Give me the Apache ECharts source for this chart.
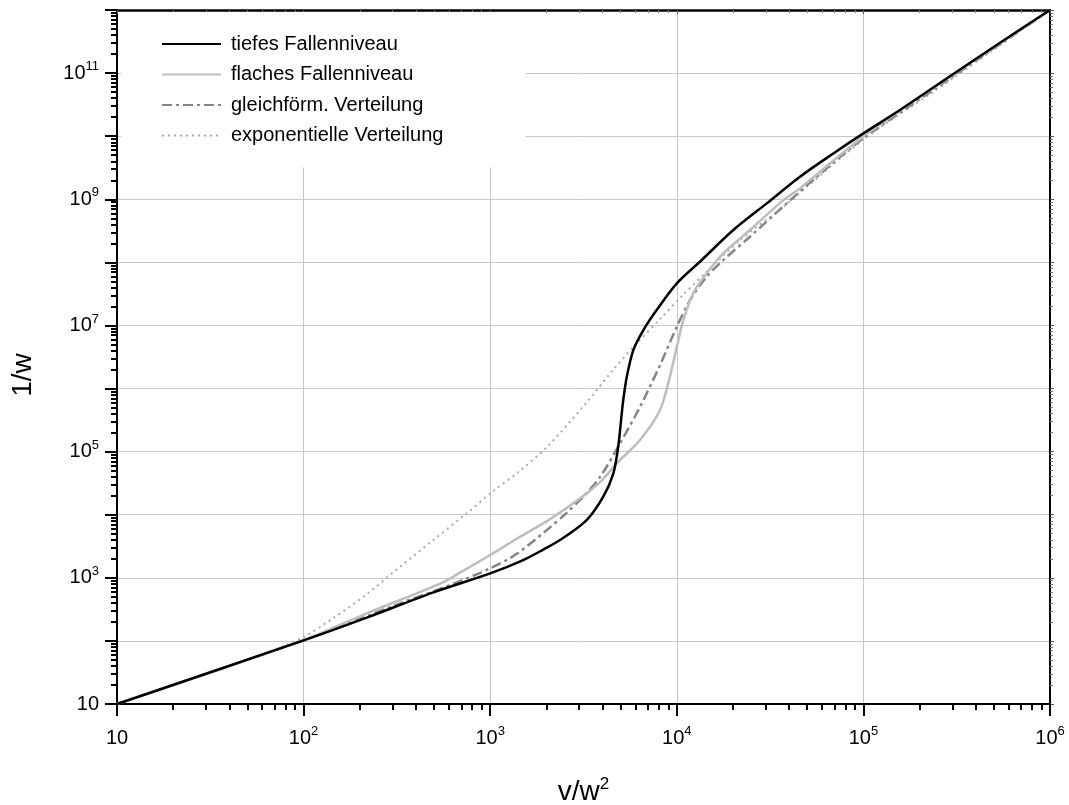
<!DOCTYPE html>
<html>
<head>
<meta charset="utf-8">
<script src="https://cdn.jsdelivr.net/npm/echarts@6/dist/echarts.min.js"></script>
<style>
html,body{margin:0;padding:0;background:#fff;}
#chart{width:1069px;height:805px;}
</style>
</head>
<body>
<div id="chart"></div>
<script>
// ---- data (x = v/w^2, y = 1/w) ----
const seriesNames = ['tiefes Fallenniveau', 'flaches Fallenniveau', 'gleichförm. Verteilung', 'exponentielle Verteilung'];

const tiefesX = [10, 100, 218, 496, 1000, 1503, 1905, 2366, 3289, 4036, 4571, 4853, 5070, 5164, 5395, 5848, 6622, 7798, 10000, 13300, 20090, 30340, 45710, 69020, 100000, 157000, 291000, 540000, 1000000];
const tiefesY = [10, 102, 234, 589, 1175, 1914, 2754, 3972, 8241, 19280, 45290, 1.197e5, 4.046e5, 6.577e5, 1.538e6, 4.074e6, 8.453e6, 1.754e7, 4.645e7, 1.023e8, 3.251e8, 8.61e8, 2.275e9, 5.33e9, 1.107e10, 2.594e10, 8.91e10, 3.02e11, 1e12];

const flachesX = [10, 100, 218, 404, 561, 661, 1000, 1387, 2094, 3034, 3981, 4764, 6353, 8128, 9183, 10000, 10840, 12250, 14450, 17740, 24660, 37240, 45710, 99500, 236000, 1000000];
const flachesY = [10, 103, 274, 568, 851, 1122, 2296, 4169, 8511, 18200, 35480, 65310, 1.528e5, 4.56e5, 1.55e6, 4.571e6, 1.216e7, 3.228e7, 6.699e7, 1.39e8, 3.251e8, 9.7e8, 1.489e9, 9.77e9, 5.754e10, 1e12];

const gleichX = [10, 100, 329, 610, 1000, 1387, 2094, 2570, 3162, 3882, 4966, 6353, 8128, 10000, 11780, 14450, 17740, 24660, 38820, 56230, 100000, 236000, 1000000];
const gleichY = [10, 102, 394, 769, 1413, 2399, 6310, 10720, 19500, 39810, 1.352e5, 5.152e5, 2.344e6, 9.55e6, 2.523e7, 5.916e7, 1.086e8, 2.547e8, 8.61e8, 2.275e9, 9.23e9, 5.37e10, 1e12];

const expoX = [10, 50.1, 79.4, 100, 144, 218, 329, 496, 748, 1000, 1387, 2009, 3289, 4571, 6095, 8128, 10840, 14450, 21830, 37240, 100000, 236000, 1000000];
const expoY = [10, 50.1, 85.1, 115, 229, 550, 1500, 3972, 10520, 21830, 45290, 1.175e5, 6.026e5, 2.0e6, 5.2e6, 1.259e7, 3.09e7, 7.096e7, 2.254e8, 7.6e8, 8.9e9, 5.01e10, 1e12];

// axis ticks / labels
const xMajorTicks = [10, 100, 1000, 1e4, 1e5, 1e6];
const yMajorTicks = [10, 1e2, 1e3, 1e4, 1e5, 1e6, 1e7, 1e8, 1e9, 1e10, 1e11, 1e12];
const yLabelledExponents = [1, 3, 5, 7, 9, 11];
const xLabelledExponents = [1, 2, 3, 4, 5, 6];

function minorTicks(majors) {
  const out = [];
  for (let i = 0; i < majors.length - 1; i++) {
    for (let k = 2; k <= 9; k++) out.push(majors[i] * k);
  }
  return out;
}
const xMinorTicks = minorTicks(xMajorTicks);
const yMinorTicks = minorTicks(yMajorTicks);

function pairs(xs, ys) { return xs.map((x, i) => [x, ys[i]]); }

const FONT = "'Liberation Sans', Arial, sans-serif";
const rich = {
  b: { fontSize: 20, fontFamily: FONT, color: '#000', lineHeight: 26 },
  s: { fontSize: 13, fontFamily: FONT, color: '#000', lineHeight: 14, verticalAlign: 'top' }
};
function expLabel(v, allowed) {
  const e = Math.round(Math.log10(v));
  if (allowed.indexOf(e) < 0) return '';
  if (e === 1) return '{b|10}';
  return '{b|10}{s|' + e + '}';
}

const chart = echarts.init(document.getElementById('chart'), null, { renderer: 'canvas' });

const gridBox = { left: 117, right: 19, top: 10, bottom: 101, containLabel: false, outerBoundsMode: 'none' };

const option = {
  animation: false,
  backgroundColor: '#fff',
  grid: [
    Object.assign({}, gridBox),
    Object.assign({}, gridBox)
  ],
  legend: {
    orient: 'vertical',
    left: 121, top: 12,
    padding: [22, 82, 22, 40],
    backgroundColor: '#fff',
    itemWidth: 59, itemHeight: 20, itemGap: 10.5,
    itemStyle: { color: 'rgba(0,0,0,0)', borderColor: 'rgba(0,0,0,0)', borderWidth: 0 },
    textStyle: { fontSize: 20, fontFamily: FONT, color: '#000', lineHeight: 20, padding: [0, 0, 0, 5] },
    data: seriesNames
  },
  xAxis: [
    { // main bottom axis
      type: 'log', logBase: 10, min: 10, max: 1e6, interval: 1, gridIndex: 0, position: 'bottom',
      name: '{b|v/w}{s|2}', nameLocation: 'middle', nameGap: 72,
      nameTextStyle: { rich: {
        b: { fontSize: 28, fontFamily: FONT, color: '#000', lineHeight: 32 },
        s: { fontSize: 17, fontFamily: FONT, color: '#000', lineHeight: 17, verticalAlign: 'top' } } },
      axisLine: { show: true, lineStyle: { color: '#000', width: 2 } },
      axisTick: { show: true, inside: false, length: 12, lineStyle: { color: '#000', width: 2 }, customValues: xMajorTicks },
      axisLabel: { show: true, margin: 21, rich: rich, customValues: xMajorTicks,
        formatter: v => expLabel(v, xLabelledExponents) },
      splitLine: { show: true, lineStyle: { color: '#c8c8c8', width: 1 } },
      minorTick: { show: false }
    },
    { // top frame
      type: 'log', logBase: 10, min: 10, max: 1e6, interval: 1, gridIndex: 0, position: 'top',
      axisLine: { show: true, lineStyle: { color: '#000', width: 2.5 } },
      axisTick: { show: true, inside: true, length: 4, lineStyle: { color: '#555', width: 1 }, customValues: xMajorTicks },
      axisLabel: { show: false }, splitLine: { show: false }
    },
    { // minor ticks bottom
      type: 'log', logBase: 10, min: 10, max: 1e6, gridIndex: 1, position: 'bottom',
      axisLine: { show: false },
      axisTick: { show: true, inside: false, length: 6, lineStyle: { color: '#000', width: 2 }, customValues: xMinorTicks },
      axisLabel: { show: false }, splitLine: { show: false }
    },
    { // minor ticks top
      type: 'log', logBase: 10, min: 10, max: 1e6, gridIndex: 1, position: 'top',
      axisLine: { show: false },
      axisTick: { show: true, inside: true, length: 3, lineStyle: { color: '#777', width: 1 }, customValues: xMinorTicks },
      axisLabel: { show: false }, splitLine: { show: false }
    }
  ],
  yAxis: [
    { // main left
      type: 'log', logBase: 10, min: 10, max: 1e12, interval: 1, gridIndex: 0, position: 'left',
      name: '1/w', nameLocation: 'middle', nameGap: 80, nameRotate: 90,
      nameTextStyle: { fontSize: 28, fontFamily: FONT, color: '#000', padding: [0, 36, 0, 0] },
      axisLine: { show: true, lineStyle: { color: '#000', width: 2 } },
      axisTick: { show: true, inside: false, length: 12, lineStyle: { color: '#000', width: 2 }, customValues: yMajorTicks },
      axisLabel: { show: true, margin: 18, rich: rich, customValues: yMajorTicks,
        formatter: v => expLabel(v, yLabelledExponents) },
      splitLine: { show: true, lineStyle: { color: '#c8c8c8', width: 1 } },
      minorTick: { show: false }
    },
    { // right frame
      type: 'log', logBase: 10, min: 10, max: 1e12, interval: 1, gridIndex: 0, position: 'right',
      axisLine: { show: true, lineStyle: { color: '#000', width: 2 } },
      axisTick: { show: true, inside: false, length: 4, lineStyle: { color: '#555', width: 1 }, customValues: yMajorTicks },
      axisLabel: { show: false }, splitLine: { show: false }
    },
    { // minor left
      type: 'log', logBase: 10, min: 10, max: 1e12, gridIndex: 1, position: 'left',
      axisLine: { show: false },
      axisTick: { show: true, inside: false, length: 6, lineStyle: { color: '#000', width: 2 }, customValues: yMinorTicks },
      axisLabel: { show: false }, splitLine: { show: false }
    },
    { // minor right
      type: 'log', logBase: 10, min: 10, max: 1e12, gridIndex: 1, position: 'right',
      axisLine: { show: false },
      axisTick: { show: true, inside: false, length: 3, lineStyle: { color: '#777', width: 1 }, customValues: yMinorTicks },
      axisLabel: { show: false }, splitLine: { show: false }
    }
  ],
  series: [
    {
      name: seriesNames[3], type: 'line', xAxisIndex: 0, yAxisIndex: 0,
      data: pairs(expoX, expoY), symbol: 'none', smooth: 0.3,
      lineStyle: { color: '#aaaaaa', width: 2, type: [2, 4] }, itemStyle: { color: '#aaaaaa' }, z: 2
    },
    {
      name: seriesNames[2], type: 'line', xAxisIndex: 0, yAxisIndex: 0,
      data: pairs(gleichX, gleichY), symbol: 'none', smooth: 0.3,
      lineStyle: { color: '#858585', width: 2.5, type: [10, 4, 3, 4] }, itemStyle: { color: '#858585' }, z: 3
    },
    {
      name: seriesNames[1], type: 'line', xAxisIndex: 0, yAxisIndex: 0,
      data: pairs(flachesX, flachesY), symbol: 'none', smooth: 0.3,
      lineStyle: { color: '#bdbdbd', width: 2.5 }, itemStyle: { color: '#bdbdbd' }, z: 4
    },
    {
      name: seriesNames[0], type: 'line', xAxisIndex: 0, yAxisIndex: 0,
      data: pairs(tiefesX, tiefesY), symbol: 'none', smooth: 0.3,
      lineStyle: { color: '#000000', width: 2.5 }, itemStyle: { color: '#000000' }, z: 5
    }
  ]
};
chart.setOption(option);
</script>
</body>
</html>
